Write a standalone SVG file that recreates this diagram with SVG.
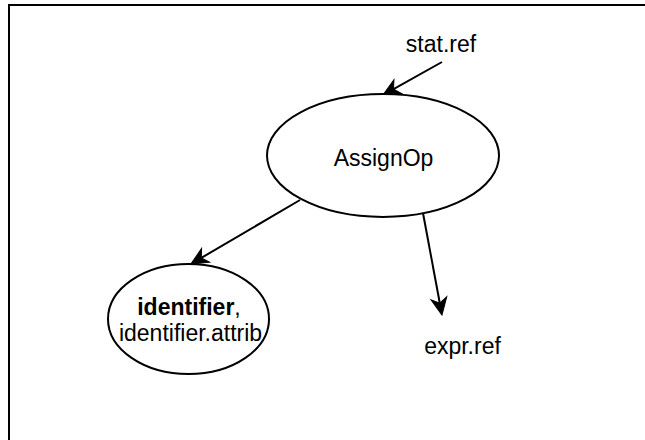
<svg xmlns="http://www.w3.org/2000/svg" width="645" height="440" viewBox="0 0 645 440">
<style>
  .shape { fill: #ffffff; stroke: #000000; stroke-width: 2; }
  .edge { fill: none; stroke: #000000; stroke-width: 2; }
  .label { font-family: "Liberation Sans", Helvetica, Arial, sans-serif; font-size: 23px; fill: #000000; text-anchor: middle; }
  .bold { font-weight: bold; }
</style>
<defs>
  <marker id="arrow" markerUnits="userSpaceOnUse" markerWidth="20" markerHeight="20" viewBox="0 0 20 20" refX="5" refY="10" orient="auto" overflow="visible">
    <path d="M17,10 L0,2 L5,10 L0,18 Z" fill="#000000" stroke="#000000" stroke-width="1" stroke-linejoin="miter"/>
  </marker>
</defs>
<rect width="645" height="440" fill="#ffffff"/>
<rect id="frame" x="9" y="5" width="660" height="460" fill="none" stroke="#000000" stroke-width="2"/>
<g id="connectors">
  <line class="edge" x1="442" y1="62" x2="393.5" y2="89.1" marker-end="url(#arrow)"/>
  <line class="edge" x1="300" y1="200" x2="201.3" y2="257.9" marker-end="url(#arrow)"/>
  <line class="edge" x1="423" y1="213" x2="439.8" y2="303.2" marker-end="url(#arrow)"/>
</g>
<g id="stat-ref">
  <text class="label" x="441" y="52">stat.ref</text>
</g>
<g id="assignop">
  <ellipse class="shape" cx="383" cy="155.5" rx="116" ry="61.5"/>
  <text class="label" x="383.5" y="166">AssignOp</text>
</g>
<g id="identifier">
  <ellipse class="shape" cx="188.5" cy="319" rx="80.5" ry="55"/>
  <text class="label" x="189" y="315"><tspan class="bold">identifier</tspan>,</text>
  <text class="label" x="190.5" y="341">identifier.attrib</text>
</g>
<g id="expr-ref">
  <text class="label" x="462.5" y="354">expr.ref</text>
</g>
</svg>
